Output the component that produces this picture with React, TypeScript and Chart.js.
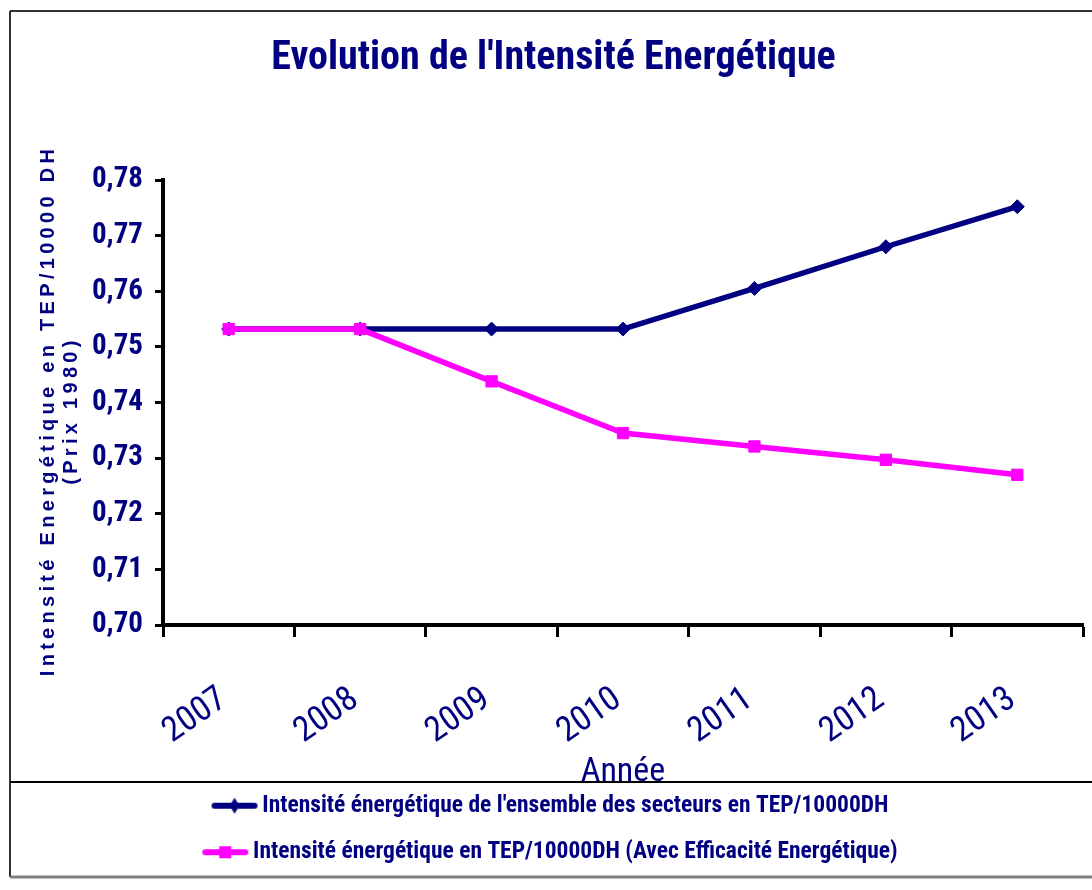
import React, { useEffect, useRef } from "react";
import { Chart, registerables } from "chart.js";

Chart.register(...registerables);

const categories = ["2007", "2008", "2009", "2010", "2011", "2012", "2013"];
const seriesTotal = [0.7532, 0.7532, 0.7532, 0.7532, 0.7605, 0.768, 0.7752];
const seriesEfficiency = [0.7532, 0.7532, 0.7438, 0.7345, 0.7321, 0.7297, 0.727];
const seriesNames = [
  "Intensité énergétique de l'ensemble des secteurs en TEP/10000DH",
  "Intensité énergétique en TEP/10000DH (Avec Efficacité Energétique)",
];
const chartTitle = "Evolution de l'Intensité Energétique";
const yTitleLines = ["Intensité Energétique en TEP/10000 DH", "(Prix 1980)"];
const xTitle = "Année";
const yMin = 0.7;
const yMax = 0.78;
const yStep = 0.01;

const NAVY = "#000080";
const MAGENTA = "#FF00FF";
const NARROW = "'Roboto Condensed', 'Open Sans Condensed', 'DejaVu Sans Condensed', sans-serif";
const WIDE = "'Liberation Sans', Arial, sans-serif";

function makeLegendIcon(color: string, marker: "diamond" | "square"): HTMLCanvasElement {
  const c = document.createElement("canvas");
  c.width = 48;
  c.height = 18;
  const g = c.getContext("2d")!;
  g.strokeStyle = color;
  g.fillStyle = color;
  g.lineWidth = 6;
  g.lineCap = "round";
  g.beginPath();
  g.moveTo(4, 9);
  g.lineTo(44, 9);
  g.stroke();
  g.beginPath();
  if (marker === "diamond") {
    g.moveTo(24, 1);
    g.lineTo(29, 9);
    g.lineTo(24, 17);
    g.lineTo(19, 9);
    g.closePath();
  } else {
    g.rect(18, 3, 12, 12);
  }
  g.fill();
  return c;
}

const framePlugin = {
  id: "frame",
  afterDraw(chart: any) {
    const ctx = chart.ctx;
    ctx.save();
    ctx.strokeStyle = "#333333";
    ctx.lineWidth = 2;
    ctx.beginPath();
    ctx.moveTo(10, 11);
    ctx.lineTo(1092, 11);
    ctx.moveTo(10, 11);
    ctx.lineTo(10, 877);
    ctx.stroke();
    ctx.strokeStyle = "#000000";
    ctx.lineWidth = 2;
    ctx.beginPath();
    ctx.moveTo(10, 782);
    ctx.lineTo(1092, 782);
    ctx.stroke();
    ctx.strokeStyle = "#808080";
    ctx.lineWidth = 3;
    ctx.beginPath();
    ctx.moveTo(10, 877);
    ctx.lineTo(1092, 877);
    ctx.stroke();
    ctx.restore();
  },
};

const yTitlePlugin = {
  id: "yTitle",
  afterDraw(chart: any) {
    const ctx = chart.ctx;
    const area = chart.chartArea;
    const cy = (area.top + area.bottom) / 2 + 8;
    ctx.save();
    ctx.fillStyle = NAVY;
    ctx.font = `bold 20px ${WIDE}`;
    (ctx as any).letterSpacing = "4.3px";
    ctx.textAlign = "center";
    ctx.textBaseline = "middle";
    const xs = [48, 71];
    yTitleLines.forEach((line, i) => {
      ctx.save();
      ctx.translate(xs[i], cy);
      ctx.rotate(-Math.PI / 2);
      ctx.fillText(line, 0, 0);
      ctx.restore();
    });
    ctx.restore();
  },
};

export default function App() {
  const ref = useRef<HTMLCanvasElement | null>(null);

  useEffect(() => {
    if (!ref.current) return;
    const icons = [makeLegendIcon(NAVY, "diamond"), makeLegendIcon(MAGENTA, "square")];
    const chart = new Chart(ref.current, {
      type: "line",
      data: {
        labels: categories,
        datasets: [
          {
            label: seriesNames[0],
            data: seriesTotal,
            borderColor: NAVY,
            backgroundColor: NAVY,
            borderWidth: 5.5,
            pointStyle: "rectRot",
            pointRadius: 7,
            pointBorderWidth: 1,
            pointBorderColor: NAVY,
            pointBackgroundColor: NAVY,
            tension: 0,
            order: 1,
          },
          {
            label: seriesNames[1],
            data: seriesEfficiency,
            borderColor: MAGENTA,
            backgroundColor: MAGENTA,
            borderWidth: 5.5,
            pointStyle: "rect",
            pointRadius: 8,
            pointBorderWidth: 1,
            pointBorderColor: MAGENTA,
            pointBackgroundColor: MAGENTA,
            tension: 0,
            order: 0,
          },
        ],
      },
      options: {
        animation: false,
        responsive: false,
        events: [],
        layout: { padding: { top: 0, left: 20, right: 5, bottom: 16 } },
        plugins: {
          tooltip: { enabled: false },
          title: {
            display: true,
            text: chartTitle,
            color: NAVY,
            font: { family: NARROW, size: 40, weight: "bold" },
            padding: { top: 35, bottom: 97 },
          },
          legend: {
            display: true,
            position: "bottom",
            labels: {
              usePointStyle: true,
              pointStyleWidth: 32,
              padding: 23,
              color: NAVY,
              font: { family: NARROW, size: 23.5, weight: "bold" },
              generateLabels: () =>
                seriesNames.map((name, i) => ({
                  text: name,
                  fillStyle: i === 0 ? NAVY : MAGENTA,
                  strokeStyle: i === 0 ? NAVY : MAGENTA,
                  lineWidth: 0,
                  pointStyle: icons[i] as any,
                  hidden: false,
                  datasetIndex: i,
                  fontColor: NAVY,
                })),
            },
          },
        },
        scales: {
          x: {
            type: "category",
            offset: true,
            afterFit: (scale: any) => {
              scale.height = 146;
            },
            border: { display: true, color: "#000000", width: 4 },
            grid: {
              display: true,
              offset: true,
              drawOnChartArea: false,
              drawTicks: true,
              tickLength: 12,
              tickWidth: 3,
              tickColor: "#000000",
            },
            ticks: {
              autoSkip: false,
              minRotation: 35,
              maxRotation: 35,
              padding: 42,
              labelOffset: -5,
              color: NAVY,
              font: { family: NARROW, size: 35 },
            },
            title: {
              display: true,
              text: xTitle,
              color: NAVY,
              font: { family: NARROW, size: 34 },
              padding: { top: 0, bottom: -22 },
            },
          },
          y: {
            min: yMin,
            max: yMax,
            afterFit: (scale: any) => {
              scale.width = 143;
            },
            border: { display: true, color: "#000000", width: 4 },
            grid: {
              display: true,
              drawOnChartArea: false,
              drawTicks: true,
              tickLength: 8,
              tickWidth: 3,
              tickColor: "#000000",
            },
            ticks: {
              stepSize: yStep,
              padding: 12,
              color: NAVY,
              font: { family: NARROW, size: 29, weight: "bold" },
              callback: (v: any) => Number(v).toFixed(2).replace(".", ","),
            },
          },
        },
      },
      plugins: [framePlugin, yTitlePlugin],
    } as any);
    return () => chart.destroy();
  }, []);

  return (
    <div style={{ position: "fixed", left: 0, top: 0, width: 1092, height: 890, background: "#ffffff" }}>
      <canvas ref={ref} width={1092} height={890} style={{ display: "block" }} />
    </div>
  );
}
